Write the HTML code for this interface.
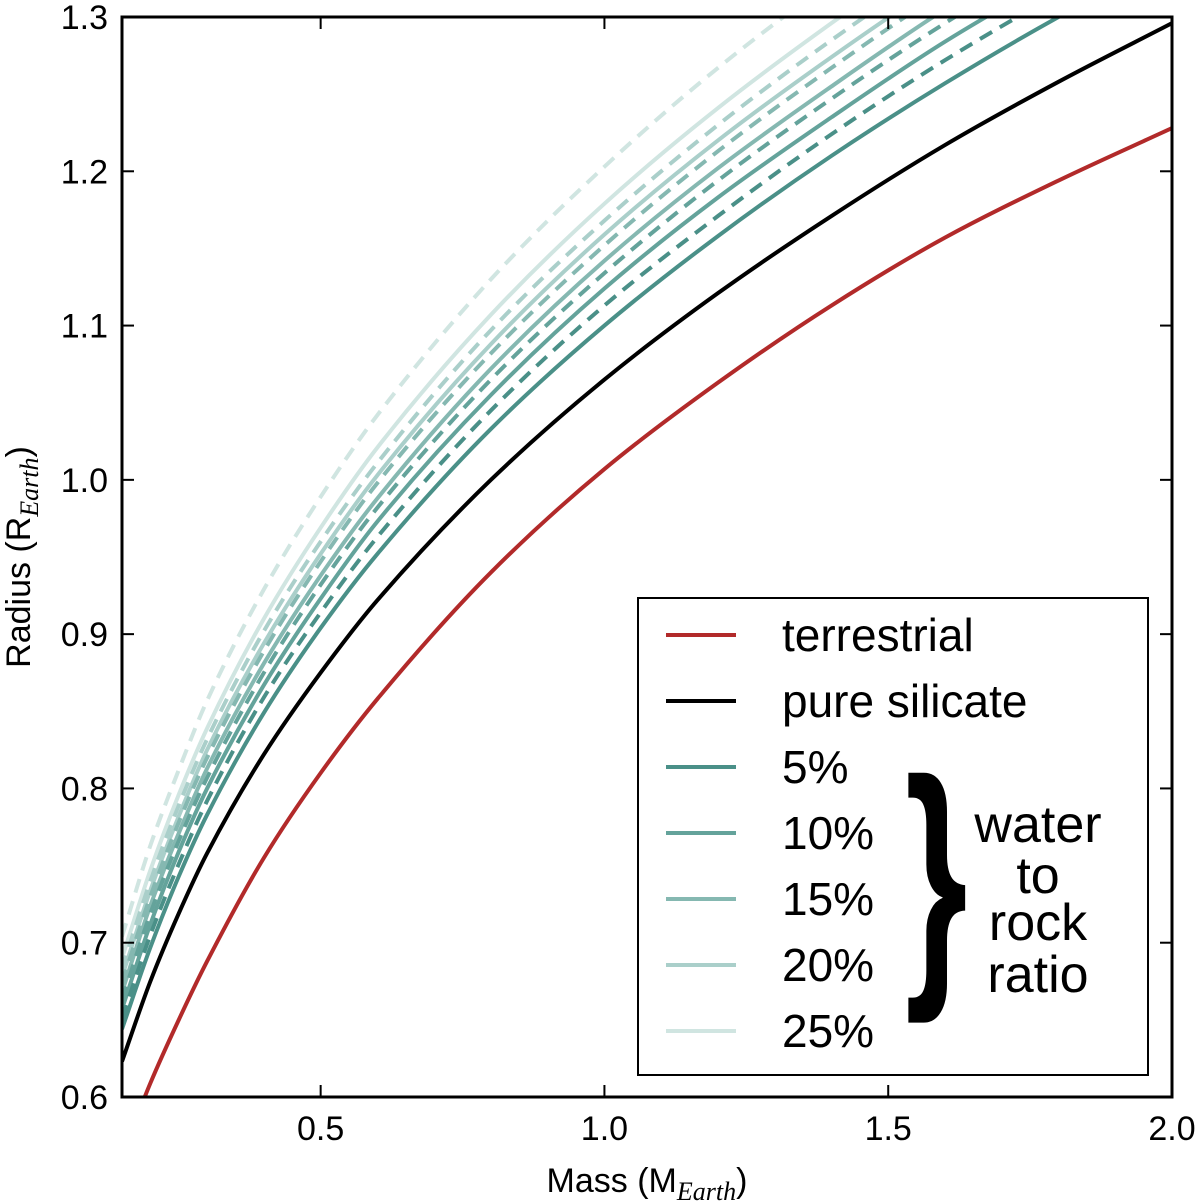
<!DOCTYPE html>
<html><head><meta charset="utf-8"><style>
html,body{margin:0;padding:0;background:#fff;}
svg{display:block;font-family:"Liberation Sans",sans-serif;}
</style></head><body>
<svg id="chart" width="1200" height="1204" viewBox="0 0 1200 1204" xmlns="http://www.w3.org/2000/svg">
<defs><clipPath id="plotclip"><rect x="122" y="17" width="1050" height="1080"/></clipPath></defs>
<g id="curves" clip-path="url(#plotclip)"></g>
<rect x="122" y="17" width="1050" height="1080" fill="none" stroke="#000" stroke-width="3"/>
<g id="axes"></g>
<text x="647" y="1192" font-size="34" text-anchor="middle">Mass (M<tspan font-style="italic" font-family="Liberation Serif, serif" font-size="26" dy="8">Earth</tspan><tspan dy="-8">)</tspan></text>
<text transform="translate(30,557) rotate(-90)" font-size="34" text-anchor="middle">Radius (R<tspan font-style="italic" font-family="Liberation Serif, serif" font-size="26" dy="8">Earth</tspan><tspan dy="-8">)</tspan></text>
<g>
<rect x="638" y="598" width="510" height="477" fill="#fff" stroke="#000" stroke-width="2"/>
<g id="legend-items"></g>
<text transform="translate(905,967) scale(0.6,1)" font-size="268" font-weight="bold">}</text>
<text font-size="52" text-anchor="middle"><tspan x="1038" y="842">water</tspan><tspan x="1038" y="893">to</tspan><tspan x="1038" y="940">rock</tspan><tspan x="1038" y="992">ratio</tspan></text>
</g>
</svg>
<script>
const mass = [0.15,0.2,0.25,0.3,0.4,0.5,0.6,0.8,1.0,1.2,1.4,1.6,1.8,2.0];
const terrestrial = [0.562,0.609,0.650,0.688,0.755,0.810,0.858,0.940,1.007,1.063,1.113,1.157,1.194,1.228];
const silicate = [0.623,0.675,0.719,0.758,0.822,0.875,0.922,1.000,1.065,1.121,1.171,1.217,1.258,1.296];
const w5 = [0.644,0.697,0.743,0.783,0.849,0.904,0.952,1.033,1.100,1.158,1.210,1.257,1.300,1.339];
const w5d = [0.651,0.705,0.751,0.792,0.859,0.914,0.963,1.045,1.113,1.171,1.224,1.272,1.315,1.354];
const w10 = [0.657,0.712,0.759,0.800,0.867,0.923,0.973,1.055,1.124,1.183,1.235,1.284,1.327,1.367];
const w10d = [0.663,0.719,0.766,0.807,0.875,0.932,0.982,1.065,1.134,1.194,1.247,1.296,1.340,1.380];
const w15 = [0.668,0.724,0.771,0.813,0.881,0.938,0.988,1.072,1.142,1.202,1.255,1.305,1.349,1.389];
const w15d = [0.674,0.730,0.778,0.820,0.889,0.947,0.998,1.082,1.152,1.213,1.267,1.317,1.361,1.402];
const w20 = [0.678,0.734,0.782,0.825,0.894,0.952,1.003,1.088,1.159,1.220,1.274,1.324,1.369,1.410];
const w20d = [0.683,0.740,0.789,0.832,0.902,0.960,1.011,1.097,1.168,1.230,1.285,1.335,1.380,1.422];
const w25 = [0.690,0.747,0.796,0.839,0.910,0.969,1.021,1.107,1.179,1.241,1.296,1.347,1.393,1.435];
const w25d = [0.704,0.763,0.812,0.857,0.929,0.989,1.042,1.130,1.203,1.267,1.323,1.375,1.422,1.464];
const xTicks = [0.5,1.0,1.5,2.0];
const xTickLabels = ["0.5","1.0","1.5","2.0"];
const yTicks = [0.6,0.7,0.8,0.9,1.0,1.1,1.2,1.3];
const yTickLabels = ["0.6","0.7","0.8","0.9","1.0","1.1","1.2","1.3"];
const legendLabels = ["terrestrial","pure silicate","5%","10%","15%","20%","25%"];

const NS="http://www.w3.org/2000/svg";
const X0=122,X1=1172,Y0=1097,Y1=17,MMIN=0.15,MMAX=2.0,RMIN=0.6,RMAX=1.3;
function sx(m){return X0+(m-MMIN)/(MMAX-MMIN)*(X1-X0);}
function sy(r){return Y0-(r-RMIN)/(RMAX-RMIN)*(Y0-Y1);}
const colors={c5:"#4a9088",c10:"#64a39b",c15:"#85b8b1",c20:"#aacfca",c25:"#d0e5e1"};
const series=[
 {d:w25d,c:colors.c25,dash:true,n:"curve-25pct-dashed"},
 {d:w25,c:colors.c25,dash:false,n:"curve-25pct"},
 {d:w20d,c:colors.c20,dash:true,n:"curve-20pct-dashed"},
 {d:w20,c:colors.c20,dash:false,n:"curve-20pct"},
 {d:w15d,c:colors.c15,dash:true,n:"curve-15pct-dashed"},
 {d:w15,c:colors.c15,dash:false,n:"curve-15pct"},
 {d:w10d,c:colors.c10,dash:true,n:"curve-10pct-dashed"},
 {d:w10,c:colors.c10,dash:false,n:"curve-10pct"},
 {d:w5d,c:colors.c5,dash:true,n:"curve-5pct-dashed"},
 {d:w5,c:colors.c5,dash:false,n:"curve-5pct"},
 {d:silicate,c:"#000",dash:false,n:"curve-pure-silicate"},
 {d:terrestrial,c:"#b22a2a",dash:false,n:"curve-terrestrial"}
];
function pathFor(arr){
  const p=mass.map((m,i)=>[sx(m),sy(arr[i])]);
  const n=p.length,dl=[],m=[];
  for(let i=0;i<n-1;i++)dl.push((p[i+1][1]-p[i][1])/(p[i+1][0]-p[i][0]));
  m[0]=dl[0];m[n-1]=dl[n-2];
  for(let i=1;i<n-1;i++){m[i]=(dl[i-1]*dl[i]<=0)?0:2/(1/dl[i-1]+1/dl[i]);}
  let s="M"+p[0][0]+","+p[0][1];
  for(let i=0;i<n-1;i++){
    const h=(p[i+1][0]-p[i][0])/3;
    s+=" C"+(p[i][0]+h)+","+(p[i][1]+m[i]*h)+" "+(p[i+1][0]-h)+","+(p[i+1][1]-m[i+1]*h)+" "+p[i+1][0]+","+p[i+1][1];
  }
  return s;
}
const cg=document.getElementById("curves");
series.forEach(s=>{
  const el=document.createElementNS(NS,"path");
  el.setAttribute("d",pathFor(s.d));
  el.setAttribute("fill","none");
  el.setAttribute("stroke",s.c);
  el.setAttribute("stroke-width","4");
  if(s.dash)el.setAttribute("stroke-dasharray","14,9");
  
  
  cg.appendChild(el);
});
const ag=document.getElementById("axes");
xTicks.forEach((t,i)=>{
  const x=sx(t);
  [[Y0,Y0-12],[Y1,Y1+12]].forEach(([a,b])=>{
    const l=document.createElementNS(NS,"line");
    l.setAttribute("x1",x);l.setAttribute("x2",x);l.setAttribute("y1",a);l.setAttribute("y2",b);
    l.setAttribute("stroke","#000");l.setAttribute("stroke-width","2");
    
    
    ag.appendChild(l);
  });
  const tx=document.createElementNS(NS,"text");
  tx.setAttribute("x",x);tx.setAttribute("y",1140);tx.setAttribute("font-size","34");
  tx.setAttribute("text-anchor","middle");
  tx.textContent=xTickLabels[i];
  
  
  ag.appendChild(tx);
});
yTicks.forEach((t,i)=>{
  const y=sy(t);
  [[X0,X0+12],[X1,X1-12]].forEach(([a,b])=>{
    const l=document.createElementNS(NS,"line");
    l.setAttribute("x1",a);l.setAttribute("x2",b);l.setAttribute("y1",y);l.setAttribute("y2",y);
    l.setAttribute("stroke","#000");l.setAttribute("stroke-width","2");
    
    
    ag.appendChild(l);
  });
  const tx=document.createElementNS(NS,"text");
  tx.setAttribute("x",108);tx.setAttribute("y",y+12);tx.setAttribute("font-size","34");
  tx.setAttribute("text-anchor","end");
  tx.textContent=yTickLabels[i];
  
  
  ag.appendChild(tx);
});
const lg=document.getElementById("legend-items");
const legendColors=["#b22a2a","#000",colors.c5,colors.c10,colors.c15,colors.c20,colors.c25];
legendLabels.forEach((lab,i)=>{
  const y=635+i*66;
  const l=document.createElementNS(NS,"line");
  l.setAttribute("x1",666);l.setAttribute("x2",736);l.setAttribute("y1",y);l.setAttribute("y2",y);
  l.setAttribute("stroke",legendColors[i]);l.setAttribute("stroke-width","4");
  
  
  lg.appendChild(l);
  const tx=document.createElementNS(NS,"text");
  tx.setAttribute("x",782);tx.setAttribute("y",y+16);tx.setAttribute("font-size","46");
  tx.textContent=lab;
  
  
  lg.appendChild(tx);
});
</script>
</body></html>
